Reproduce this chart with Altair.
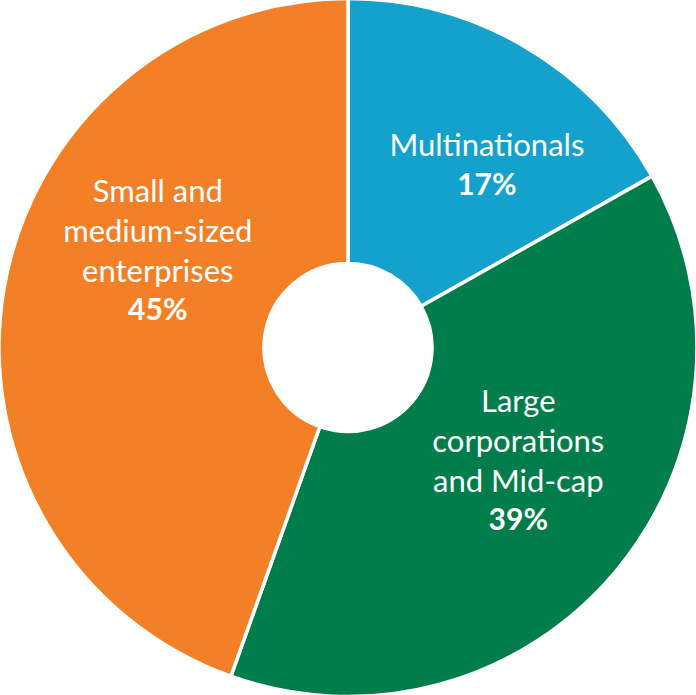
import altair as alt
import pandas as pd

categories = ["Multinationals", "Large corporations and Mid-cap", "Small and medium-sized enterprises"]
label_lines = ["Multinationals", "Large\ncorporations\nand Mid-cap", "Small and\nmedium-sized\nenterprises"]
values = [17, 39, 45]
pct_labels = ["17%", "39%", "45%"]
colors = ["#14A1CC", "#017D4B", "#F38026"]

total = sum(values)
df = pd.DataFrame({
    "category": categories,
    "name": label_lines,
    "value": values,
    "pct": pct_labels,
    "idx": list(range(len(categories))),
})

theta_scale = alt.Scale(domain=[0, total])

base = alt.Chart(df).transform_window(
    cum="sum(value)", sort=[alt.SortField("idx")], frame=[None, 0]
).transform_calculate(mid="datum.cum - datum.value / 2")

arcs = alt.Chart(df).mark_arc(
    innerRadius=84, outerRadius=349, stroke="white", strokeWidth=3.5
).encode(
    theta=alt.Theta("value:Q", stack=True, scale=theta_scale),
    color=alt.Color("category:N", scale=alt.Scale(domain=categories, range=colors), legend=None),
    order=alt.Order("idx:Q"),
)

FONT = "Lato"
# (category, radius, dx, name_dy, pct_dy)
placements = [
    (categories[0], 200, 38, -19, 20),
    (categories[1], 220, 2, -77, 41),
    (categories[2], 190, -3, -113, 5),
]

layers = [arcs]
for cat, r, dx, ndy, pdy in placements:
    sub = base.transform_filter(alt.datum.category == cat)
    layers.append(
        sub.mark_text(
            radius=r, dx=dx, dy=ndy, font=FONT, fontSize=31, color="white",
            align="center", baseline="alphabetic", lineBreak="\n", lineHeight=40,
        ).encode(theta=alt.Theta("mid:Q", scale=theta_scale), text="name:N")
    )
    layers.append(
        sub.mark_text(
            radius=r, dx=dx, dy=pdy, font=FONT, fontSize=30, fontWeight="bold", color="white",
            align="center", baseline="alphabetic",
        ).encode(theta=alt.Theta("mid:Q", scale=theta_scale), text="pct:N")
    )

chart = alt.layer(*layers).properties(
    width=696, height=695, padding=0, autosize=alt.AutoSizeParams(type="none")
).configure_view(stroke=None).configure(background="white")

chart.save("out.html", embed_options={"renderer": "svg", "actions": False})
